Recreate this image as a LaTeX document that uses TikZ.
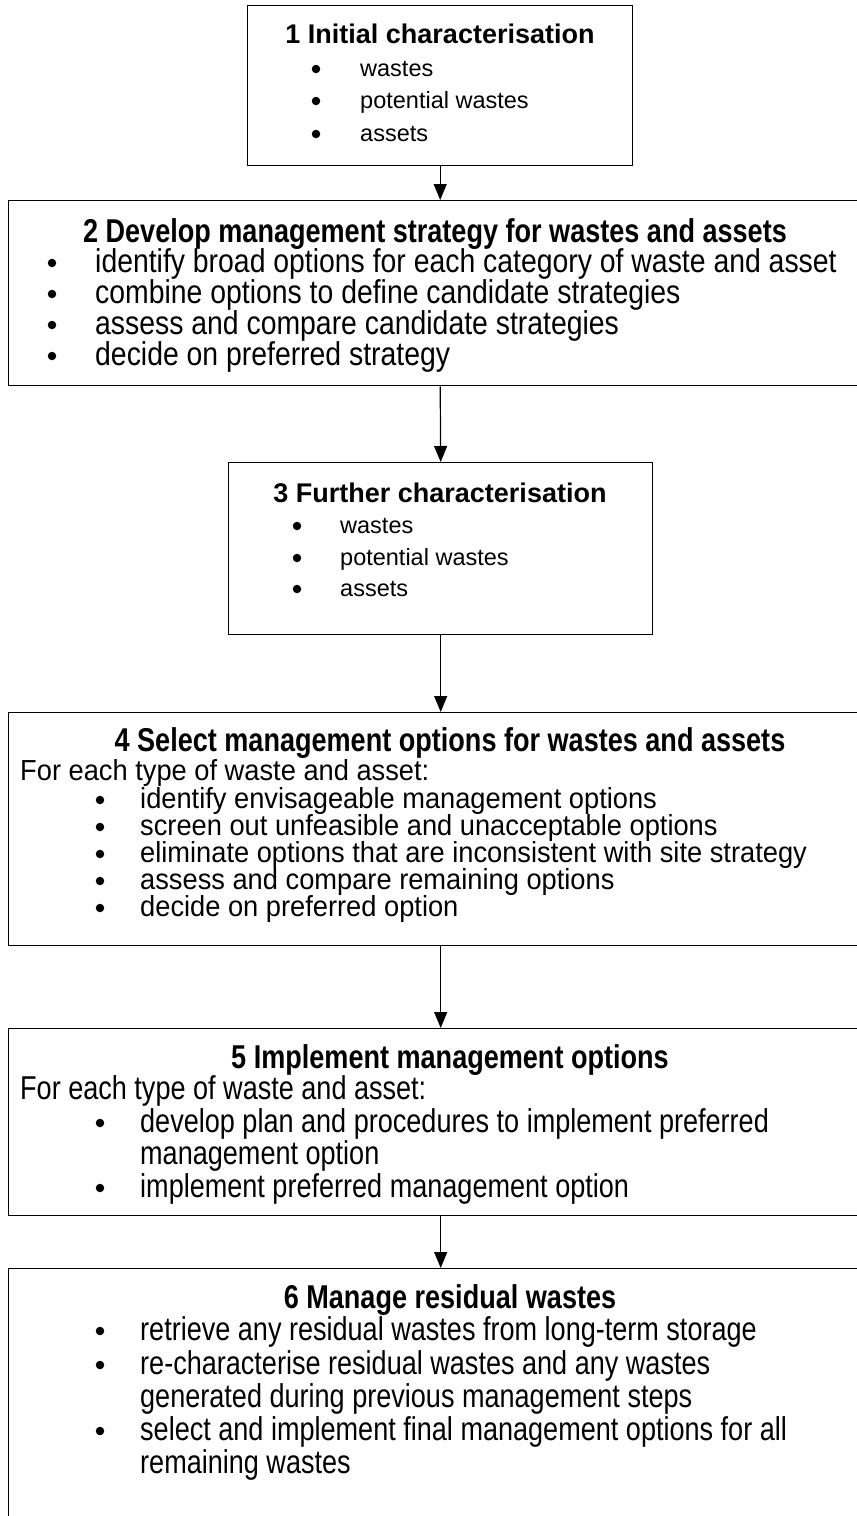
\documentclass[tikz,border=0pt]{standalone}
\usepackage{fontspec}
\setmainfont{Liberation Sans}
\newfontfamily\narrowA[FakeStretch=0.86]{Liberation Sans}
\newfontfamily\narrowB[FakeStretch=0.82]{Liberation Sans}
\newfontfamily\narrowC[FakeStretch=0.94]{Liberation Sans}
\usetikzlibrary{arrows.meta}
\tikzset{
  box/.style={draw, line width=1.4pt, anchor=north west, inner sep=0pt},
  conn/.style={line width=1.2pt, -{Triangle[length=16pt,width=13pt]}},
  tA/.style={font=\fontsize{27}{32}\selectfont\bfseries, anchor=base, inner sep=0pt},
  bA/.style={font=\fontsize{23.5}{32}\selectfont, anchor=base west, inner sep=0pt},
  tB/.style={font=\narrowB\fontsize{33}{33}\selectfont\bfseries, anchor=base, inner sep=0pt},
  bB/.style={font=\narrowA\fontsize{33}{33}\selectfont, anchor=base west, inner sep=0pt},
  bC/.style={font=\narrowB\fontsize{33}{33}\selectfont, anchor=base west, inner sep=0pt},
  bD/.style={font=\narrowC\fontsize{29}{29}\selectfont, anchor=base west, inner sep=0pt},
  dot/.style={circle, fill, inner sep=0pt, minimum size=8.5pt},
}
\begin{document}
\begin{tikzpicture}[x=1pt,y=-1pt]
\useasboundingbox (0,0) rectangle (857,1516);
\clip (0,0) rectangle (857,1516);
% boxes
\node[box, minimum width=385pt, minimum height=160pt] (b1) at (247,5) {};
\node[box, minimum width=870pt, minimum height=185pt] (b2) at (8,200) {};
\node[box, minimum width=424pt, minimum height=172pt] (b3) at (228,462) {};
\node[box, minimum width=870pt, minimum height=233pt] (b4) at (8,712) {};
\node[box, minimum width=870pt, minimum height=187pt] (b5) at (8,1028) {};
\node[box, minimum width=870pt, minimum height=300pt] (b6) at (8,1268) {};
% connectors
\draw[conn] (b1.south) -- (b1.south |- b2.north);
\draw[conn] (b1.south |- b2.south) -- (b3.north);
\draw[conn] (b3.south) -- (b3.south |- b4.north);
\draw[conn] (b3.south |- b4.south) -- (b3.south |- b5.north);
\draw[conn] (b3.south |- b5.south) -- (b3.south |- b6.north);
% box 1
\node[tA] (t1) at (440,43) {1 Initial characterisation};
\node[dot] (d11) at (316,69) {};
\node[bA] (i11) at (360,76.5) {wastes};
\node[dot] (d12) at (316,101) {};
\node[bA] (i12) at (360,108.5) {potential wastes};
\node[dot] (d13) at (316,134) {};
\node[bA] (i13) at (360,141.5) {assets};
% box 2
\node[tB] (t2) at (435,242) {2 Develop management strategy for wastes and assets};
\node[dot] (d21) at (52,263) {};
\node[bB] (i21) at (95,272) {identify broad options for each category of waste and asset};
\node[dot] (d22) at (52,294) {};
\node[bB] (i22) at (95,303) {combine options to define candidate strategies};
\node[dot] (d23) at (52,325) {};
\node[bB] (i23) at (95,334) {assess and compare candidate strategies};
\node[dot] (d24) at (52,356) {};
\node[bB] (i24) at (95,365) {decide on preferred strategy};
% box 3
\node[tA] (t3) at (440,502) {3 Further characterisation};
\node[dot] (d31) at (297,526) {};
\node[bA] (i31) at (340,533.5) {wastes};
\node[dot] (d32) at (297,558) {};
\node[bA] (i32) at (340,565.5) {potential wastes};
\node[dot] (d33) at (297,589) {};
\node[bA] (i33) at (340,596.5) {assets};
% box 4
\node[tB] (t4) at (450,751) {4 Select management options for wastes and assets};
\node[bD] (f4) at (20,780) {For each type of waste and asset:};
\node[dot] (d41) at (100,800) {};
\node[bD] (i41) at (140,808) {identify envisageable management options};
\node[dot] (d42) at (100,827) {};
\node[bD] (i42) at (140,835) {screen out unfeasible and unacceptable options};
\node[dot] (d43) at (100,854) {};
\node[bD] (i43) at (140,862) {eliminate options that are inconsistent with site strategy};
\node[dot] (d44) at (100,881) {};
\node[bD] (i44) at (140,889) {assess and compare remaining options};
\node[dot] (d45) at (100,908) {};
\node[bD] (i45) at (140,916) {decide on preferred option};
% box 5
\node[tB] (t5) at (450,1068) {5 Implement management options};
\node[bC] (f5) at (20,1099) {For each type of waste and asset:};
\node[dot] (d51) at (100,1123) {};
\node[bC] (i51) at (140,1132) {develop plan and procedures to implement preferred};
\node[bC] (i51b) at (140,1164) {management option};
\node[dot] (d52) at (100,1188) {};
\node[bC] (i52) at (140,1197) {implement preferred management option};
% box 6
\node[tB] (t6) at (450,1308) {6 Manage residual wastes};
\node[dot] (d61) at (100,1331) {};
\node[bC] (i61) at (140,1340) {retrieve any residual wastes from long-term storage};
\node[dot] (d62) at (100,1365) {};
\node[bC] (i62) at (140,1374) {re-characterise residual wastes and any wastes};
\node[bC] (i62b) at (140,1407) {generated during previous management steps};
\node[dot] (d63) at (100,1431) {};
\node[bC] (i63) at (140,1440) {select and implement final management options for all};
\node[bC] (i63b) at (140,1473) {remaining wastes};
\end{tikzpicture}
\end{document}
